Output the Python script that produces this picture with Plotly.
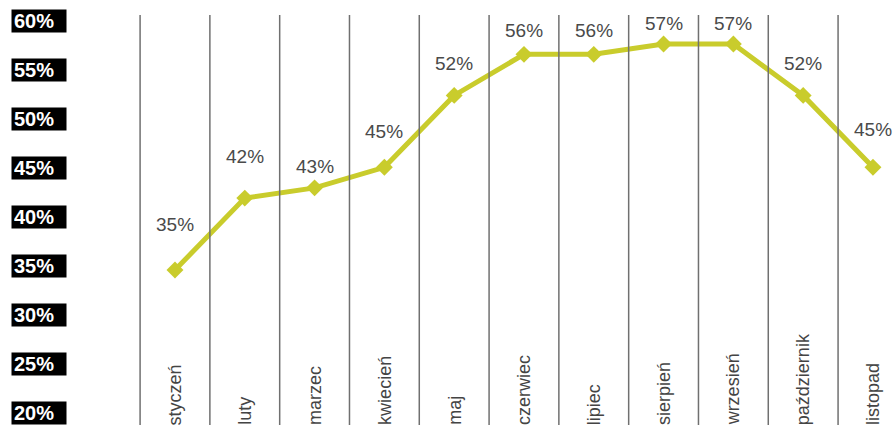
import plotly.graph_objects as go

# Monthly share (%) from January to November
months = ["styczeń", "luty", "marzec", "kwiecień", "maj", "czerwiec",
          "lipiec", "sierpień", "wrzesień", "październik", "listopad"]
values = [35, 42, 43, 45, 52, 56, 56, 57, 57, 52, 45]

# Left-hand scale labels
tick_values = [60, 55, 50, 45, 40, 35, 30, 25, 20]
tick_labels = [f"{v}%" for v in tick_values]

LINE_COLOR = "#c9cc2c"
W, H = 896, 425

fig = go.Figure()

fig.add_trace(go.Scatter(
    x=months, y=values,
    mode="lines+markers",
    line=dict(color=LINE_COLOR, width=5),
    marker=dict(symbol="diamond", size=13, color=LINE_COLOR),
    hoverinfo="skip",
    showlegend=False,
))

# value labels above each point (pixel lift varies to keep the top row inside the frame)
label_lift = [46, 42, 21, 36, 32, 24, 24, 21, 21, 32, 38]
for m, v, lift in zip(months, values, label_lift):
    fig.add_annotation(
        x=m, y=v, xref="x", yref="y",
        text=f"{v}%", showarrow=False,
        yshift=lift, xanchor="center", yanchor="middle",
        font=dict(family="Liberation Sans, Arial, sans-serif", size=19, color="#4a4a4a"),
    )

# vertical separators between months
for i in range(len(months)):
    fig.add_shape(
        type="line", xref="x", yref="paper",
        x0=i - 0.5, x1=i - 0.5, y0=0, y1=(H - 15) / H,
        line=dict(color="#707070", width=1.5),
    )

# rotated month names at the bottom of each column
for m in months:
    fig.add_annotation(
        x=m, y=0, xref="x", yref="paper",
        text=m, showarrow=False, textangle=-90,
        xanchor="center", yanchor="bottom", yshift=-2,
        font=dict(family="Liberation Sans, Arial, sans-serif", size=18, color="#444444"),
    )

# black boxed scale labels on the secondary axis
for v, t in zip(tick_values, tick_labels):
    fig.add_annotation(
        x=11 / W, y=v, xref="paper", yref="y2",
        text=f"<b>{t}</b>", showarrow=False,
        xanchor="left", yanchor="middle", align="left",
        width=50, height=18, borderpad=2,
        bgcolor="black",
        font=dict(family="Liberation Sans, Arial, sans-serif", size=20, color="white"),
    )

fig.update_layout(
    width=W, height=H,
    margin=dict(l=0, r=0, t=0, b=0),
    paper_bgcolor="white", plot_bgcolor="white",
    xaxis=dict(range=[-2.507, 10.33], showgrid=False, zeroline=False,
               showticklabels=False, showline=False, ticks=""),
    yaxis=dict(range=[19.91, 61.29], showgrid=False, zeroline=False,
               showticklabels=False, showline=False, ticks=""),
    yaxis2=dict(range=[18.78, 62.14], overlaying="y", showgrid=False,
                zeroline=False, showticklabels=False, showline=False, ticks=""),
)

fig.write_html("out.html")
